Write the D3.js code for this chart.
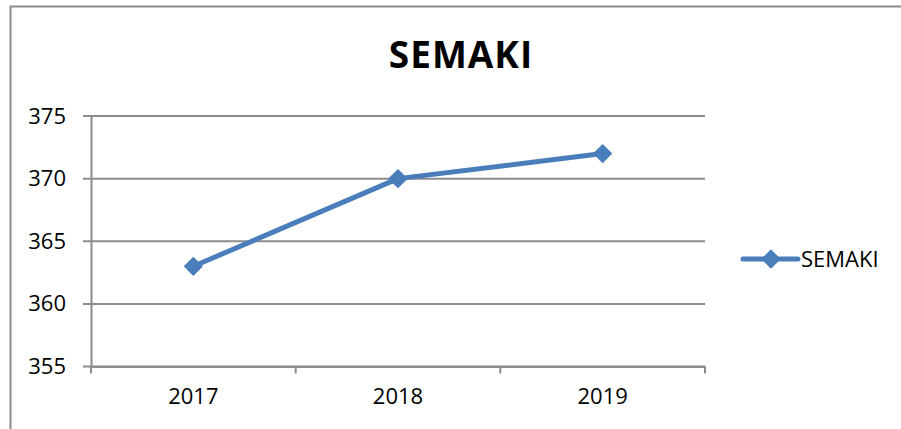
<!DOCTYPE html>
<html>
<head>
<meta charset="utf-8">
<script src="https://cdn.jsdelivr.net/npm/d3@7"></script>
<style>
  html, body { margin: 0; padding: 0; background: #fff; }
  svg { display: block; font-family: "Open Sans", sans-serif; }
</style>
</head>
<body>
<svg id="chart" width="901" height="429"></svg>
<script>
// chart data
const years = ['2017', '2018', '2019'];
const values = [363, 370, 372];
const yTicks = [355, 360, 365, 370, 375];
const seriesName = 'SEMAKI';

const width = 901;
const height = 429;
const margin = { top: 116, right: 196, bottom: 62.5, left: 91 };

const svg = d3.select('#chart');

// outer chart border (cut off on right and bottom)
svg.append('path')
  .attr('d', `M10.5,${height + 2}V6.5H${width + 2}`)
  .attr('fill', 'none')
  .attr('stroke', '#8c8c8c')
  .attr('stroke-width', 2);

const x = d3.scaleBand()
  .domain(years)
  .range([margin.left, width - margin.right]);

const y = d3.scaleLinear()
  .domain([355, 375])
  .range([height - margin.bottom, margin.top]);

// gridlines
svg.append('g')
  .selectAll('line')
  .data(yTicks)
  .join('line')
  .attr('x1', margin.left - 8)
  .attr('x2', width - margin.right)
  .attr('y1', d => y(d))
  .attr('y2', d => y(d))
  .attr('stroke', '#8c8c8c')
  .attr('stroke-width', 2);

// y axis
const yAxis = svg.append('g')
  .attr('transform', `translate(${margin.left},0)`)
  .call(d3.axisLeft(y).tickValues(yTicks).tickSize(0).tickPadding(25));
yAxis.select('.domain').attr('stroke', '#8c8c8c').attr('stroke-width', 2);
yAxis.selectAll('text')
  .attr('font-size', 22)
  .attr('font-family', '"Open Sans", sans-serif')
  .attr('fill', '#000');

// x axis
const xAxis = svg.append('g')
  .attr('transform', `translate(0,${height - margin.bottom})`)
  .call(d3.axisBottom(x).tickSize(0).tickPadding(22));
xAxis.select('.domain').attr('stroke', '#8c8c8c').attr('stroke-width', 2);
xAxis.selectAll('text')
  .attr('font-size', 22)
  .attr('font-family', '"Open Sans", sans-serif')
  .attr('fill', '#000');

// x tick marks at category boundaries
const boundaries = years.map(d => x(d)).concat([x(years[years.length - 1]) + x.bandwidth()]);
svg.append('g')
  .selectAll('line')
  .data(boundaries)
  .join('line')
  .attr('x1', d => d)
  .attr('x2', d => d)
  .attr('y1', height - margin.bottom)
  .attr('y2', height - margin.bottom + 7)
  .attr('stroke', '#8c8c8c')
  .attr('stroke-width', 2);

// line series
const line = d3.line()
  .x((d, i) => x(years[i]) + x.bandwidth() / 2)
  .y(d => y(d));

svg.append('path')
  .datum(values)
  .attr('fill', 'none')
  .attr('stroke', '#4a7ebb')
  .attr('stroke-width', 5)
  .attr('stroke-linejoin', 'round')
  .attr('d', line);

const diamond = d3.symbol().type(d3.symbolDiamond2).size(190);

svg.append('g')
  .selectAll('path')
  .data(values)
  .join('path')
  .attr('transform', (d, i) => `translate(${x(years[i]) + x.bandwidth() / 2},${y(d)})`)
  .attr('d', diamond)
  .attr('fill', '#4a7ebb')
  .attr('stroke', '#4a7ebb')
  .attr('stroke-width', 1.5)
  .attr('stroke-linejoin', 'round');

// title
svg.append('text')
  .attr('x', 461)
  .attr('y', 68)
  .attr('text-anchor', 'middle')
  .attr('font-size', 37)
  .attr('font-weight', 'bold')
  .attr('letter-spacing', 1)
  .text(seriesName);

// legend
const legend = svg.append('g').attr('transform', 'translate(743,259)');
legend.append('line')
  .attr('x1', 0).attr('x2', 55)
  .attr('stroke', '#4a7ebb')
  .attr('stroke-width', 5)
  .attr('stroke-linecap', 'round');
legend.append('path')
  .attr('transform', 'translate(28,0)')
  .attr('d', diamond)
  .attr('fill', '#4a7ebb')
  .attr('stroke', '#4a7ebb')
  .attr('stroke-width', 1.5)
  .attr('stroke-linejoin', 'round');
legend.append('text')
  .attr('x', 58)
  .attr('y', 8)
  .attr('font-size', 22)
  .attr('fill', '#000')
  .text(seriesName);
</script>
</body>
</html>
